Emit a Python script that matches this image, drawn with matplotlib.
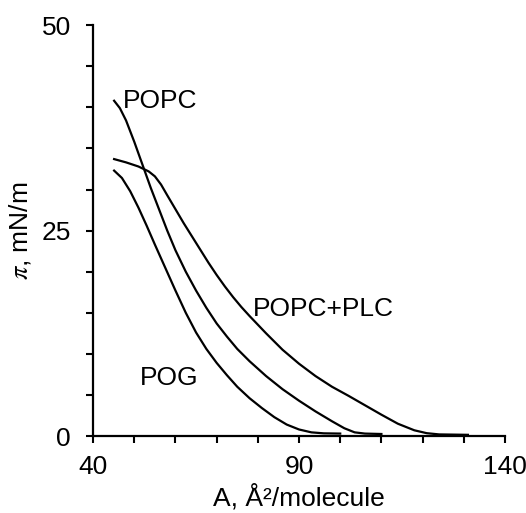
import matplotlib
matplotlib.use("Agg")
import matplotlib.pyplot as plt
from matplotlib.ticker import MultipleLocator

plt.rcParams['font.family'] = ['Liberation Sans', 'DejaVu Sans']
plt.rcParams['mathtext.fontset'] = 'stix'

# isotherms (area A in A^2/molecule, pressure pi in mN/m)
popc_x = [45.1, 46.5, 48.0, 50.0, 52.0, 54.0, 56.0, 58.0, 60.0, 62.5, 65.0, 67.5, 70.0,
          72.5, 75.0, 78.0, 82.0, 86.0, 90.0, 94.0, 98.0, 101.0, 103.5, 106.0, 110.0]
popc_y = [40.8, 39.9, 38.4, 35.8, 33.0, 30.2, 27.6, 25.0, 22.6, 20.0, 17.7, 15.6, 13.7,
          12.1, 10.6, 9.1, 7.3, 5.7, 4.3, 3.0, 1.8, 0.95, 0.45, 0.3, 0.25]

plc_x = [45.1, 48.0, 51.0, 53.5, 55.0, 56.5, 58.0, 60.0, 62.0, 64.0, 66.0, 68.0, 70.0,
         72.0, 74.0, 76.0, 78.0, 82.0, 86.0, 90.0, 94.0, 98.0, 102.0, 106.0, 110.0,
         114.0, 118.0, 121.0, 124.0, 131.0]
plc_y = [33.7, 33.3, 32.8, 32.2, 31.6, 30.6, 29.3, 27.6, 25.9, 24.3, 22.7, 21.1, 19.6,
         18.2, 16.9, 15.7, 14.6, 12.5, 10.5, 8.8, 7.3, 6.0, 4.9, 3.75, 2.6,
         1.5, 0.7, 0.35, 0.2, 0.15]

pog_x = [45.1, 47.0, 49.0, 51.0, 53.0, 55.0, 57.5, 60.0, 62.5, 65.0, 67.5, 70.0, 72.5,
         75.0, 78.0, 81.0, 84.0, 87.0, 90.0, 93.0, 96.0, 100.0]
pog_y = [32.3, 31.4, 29.8, 27.8, 25.6, 23.3, 20.5, 17.7, 15.0, 12.6, 10.6, 8.9, 7.4,
         6.0, 4.6, 3.4, 2.3, 1.4, 0.8, 0.45, 0.33, 0.3]

fig = plt.figure(figsize=(5.26, 5.13), dpi=100)
ax = fig.add_axes([0.177, 0.150, 0.783, 0.801])

for xs, ys in [(popc_x, popc_y), (plc_x, plc_y), (pog_x, pog_y)]:
    ax.plot(xs, ys, color='black', lw=1.6, solid_joinstyle='round', clip_on=False)

ax.set_xlim(40, 140)
ax.set_ylim(0, 50)
ax.set_xticks([40, 90, 140])
ax.set_yticks([0, 25, 50])
ax.xaxis.set_minor_locator(MultipleLocator(10))
ax.yaxis.set_minor_locator(MultipleLocator(5))
ax.tick_params(which='both', direction='out', length=5, width=1.5, color='black')
ax.tick_params(axis='y', which='major', pad=11, labelsize=19)
ax.tick_params(axis='x', which='major', pad=9, labelsize=19)

for side in ['top', 'right']:
    ax.spines[side].set_visible(False)
for side in ['left', 'bottom']:
    ax.spines[side].set_linewidth(1.6)

ax.set_xlabel('A, Å²/molecule', fontsize=19, labelpad=3)
ax.set_ylabel(r'$\pi$, mN/m', fontsize=19, labelpad=6)

ax.text(47.3, 40.8, 'POPC', fontsize=19, va='center', ha='left')
ax.text(78.8, 15.5, 'POPC+PLC', fontsize=19, va='center', ha='left')
ax.text(51.4, 7.05, 'POG', fontsize=19, va='center', ha='left')

fig.savefig('out.png', dpi=100)
